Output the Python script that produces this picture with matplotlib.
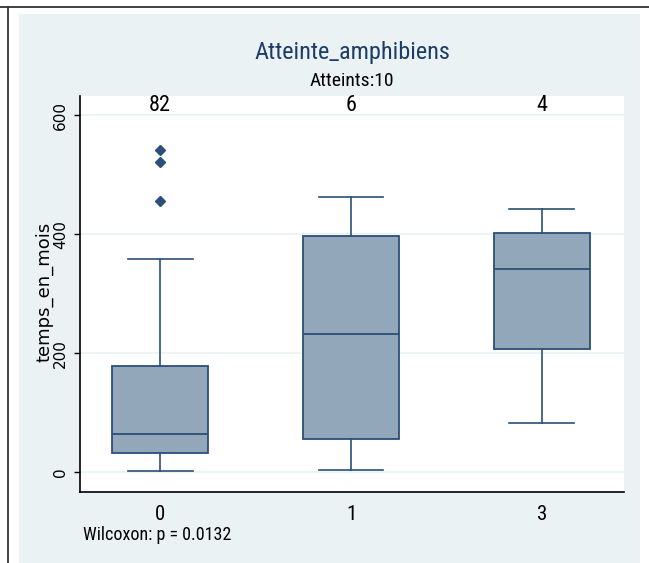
import matplotlib
matplotlib.use("Agg")
import matplotlib.pyplot as plt
from matplotlib import font_manager
from matplotlib.lines import Line2D
from matplotlib.patches import Rectangle

# data
groups = ["0", "1", "3"]
counts = [82, 6, 4]
whislo = [2.5, 4.7, 82.5]
q1 = [32, 56, 207]
medians = [64, 233, 341]
q3 = [179, 397, 402]
whishi = [359, 462, 443]
fliers = [[455, 522, 541], [], []]

title = "Atteinte_amphibiens"
subtitle = "Atteints:10"
ylabel = "temps_en_mois"
note = "Wilcoxon: p = 0.0132"
yticks = [0, 200, 400, 600]

NAVY = "#2b4f78"
FILL = "#92a7b9"
PANEL = "#eaf2f3"

# the reference text is condensed (Arial Narrow look); pick whatever narrow sans exists
installed = {f.name for f in font_manager.fontManager.ttflist}
narrow = "Liberation Sans"
for cand in ["Liberation Sans Narrow", "Arial Narrow", "Arimo Narrow",
             "Roboto Condensed", "Archivo Narrow", "Open Sans Condensed"]:
    if cand in installed:
        narrow = cand
        break

W, H = 649, 563
fig = plt.figure(figsize=(W / 100, H / 100), dpi=100, facecolor="white")

# outer frame lines and graph region
fig.add_artist(Rectangle((19 / W, 0), (640 - 19) / W, (H - 14) / H,
                         transform=fig.transFigure, facecolor=PANEL,
                         edgecolor="none", zorder=0))
fig.add_artist(Line2D([0, 1], [1 - 7 / H, 1 - 7 / H], transform=fig.transFigure,
                      color="#333333", lw=1.3))
fig.add_artist(Line2D([8 / W, 8 / W], [0, 1 - 7 / H], transform=fig.transFigure,
                      color="#333333", lw=1.3))

ax = fig.add_axes([80 / W, (H - 492) / H, 544 / W, 396 / H])
ax.set_facecolor("white")

stats = []
for i, g in enumerate(groups):
    stats.append(dict(label=g, whislo=whislo[i], q1=q1[i], med=medians[i],
                      q3=q3[i], whishi=whishi[i], fliers=fliers[i]))

ax.bxp(stats, positions=range(len(groups)), widths=0.5, patch_artist=True,
       boxprops=dict(facecolor=FILL, edgecolor=NAVY, linewidth=1.3),
       medianprops=dict(color=NAVY, linewidth=1.3),
       whiskerprops=dict(color=NAVY, linewidth=1.2),
       capprops=dict(color=NAVY, linewidth=1.2),
       capwidths=0.34,
       flierprops=dict(marker="D", markersize=5, markerfacecolor=NAVY,
                       markeredgecolor=NAVY))

ax.set_xlim(-0.42, 2.43)
ax.set_ylim(-33, 632)
ax.set_yticks(yticks)
ax.set_yticklabels([str(t) for t in yticks], rotation=90, va="center",
                   family="DejaVu Sans", fontsize=11)
ax.set_xticks(range(len(groups)))
ax.set_xticklabels(groups, family=narrow, fontsize=15)
ax.tick_params(axis="x", length=0, pad=9)
ax.tick_params(axis="y", length=4.5, width=1, pad=4)
ax.grid(axis="y", color=PANEL, linewidth=1.2)
ax.set_axisbelow(True)

for side in ["top", "right"]:
    ax.spines[side].set_visible(False)
for side in ["left", "bottom"]:
    ax.spines[side].set_color("black")
    ax.spines[side].set_linewidth(1.2)

for i, n in enumerate(counts):
    ax.text(i, 606, str(n), ha="center", va="baseline", family=narrow, fontsize=16)

ax.set_ylabel(ylabel, family="DejaVu Sans", fontsize=13)
ax.yaxis.label.set_va("center")
ax.yaxis.set_label_coords(-0.066, 0.505)

cx = (80 + 544 / 2) / W
fig.text(cx, 1 - 59.5 / H, title, ha="center", va="baseline", family=narrow,
         fontsize=17.5, color="#1e3d66")
fig.text(cx, 1 - 86.5 / H, subtitle, ha="center", va="baseline", family=narrow,
         fontsize=14, color="black")
fig.text(83 / W, 1 - 540 / H, note, ha="left", va="baseline", family=narrow,
         fontsize=13, color="black")

fig.savefig("out.png", dpi=100, facecolor="white")
